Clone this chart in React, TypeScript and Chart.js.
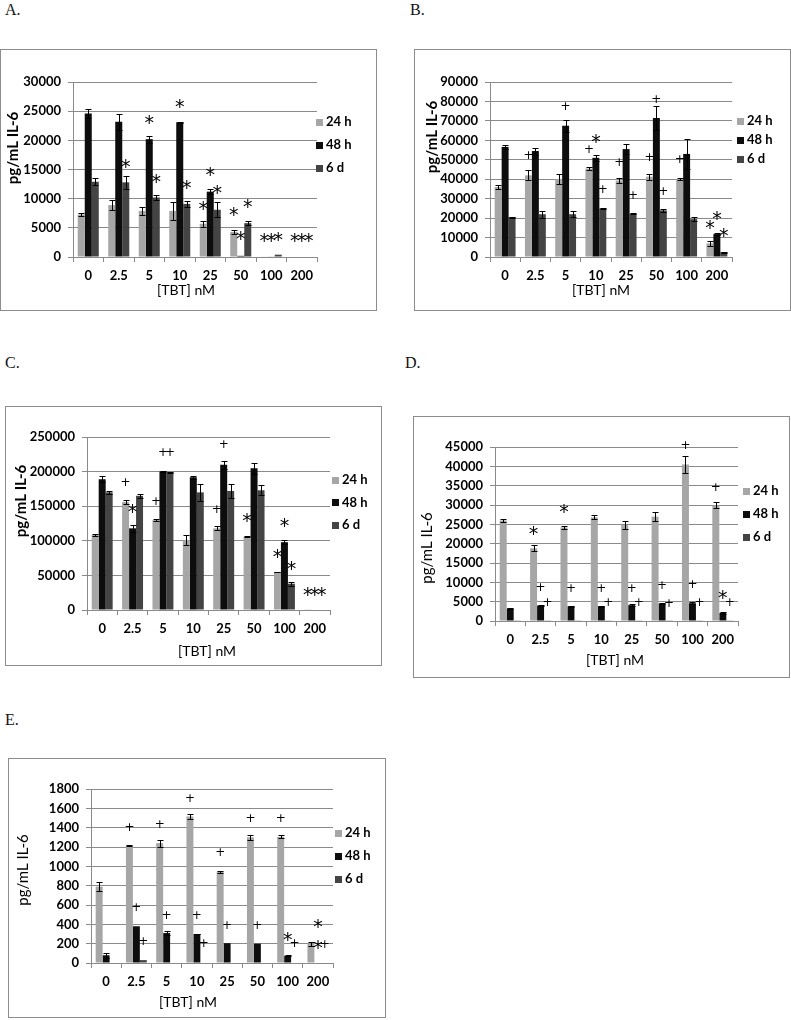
import React, { useEffect, useRef } from "react";
import { Chart, registerables } from "chart.js";

Chart.register(...registerables);

// ---------- shared ----------
const categories = ["0", "2.5", "5", "10", "25", "50", "100", "200"];
const seriesLabels = ["24 h", "48 h", "6 d"];
const seriesColors = ["#a6a6a6", "#0d0d0d", "#444444"];
const xTitle = "[TBT] nM";
const yTitle = "pg/mL IL-6";

// ---------- Panel A ----------
const aTicks = [0, 5000, 10000, 15000, 20000, 25000, 30000];
const a24 = [7300, 8900, 7900, 7900, 5700, 4300, 100, 0];
const a24Err = [300, 800, 700, 1500, 500, 300, 0, 0];
const a48 = [24600, 23200, 20200, 23100, 11200, 200, 100, 0];
const a48Err = [800, 1400, 600, 100, 400, 0, 0, 0];
const a6d = [12900, 12800, 10200, 9100, 8100, 5800, 400, 0];
const a6dErr = [600, 1100, 500, 500, 1300, 300, 0, 0];
// [category, series, symbol, value]
const aMarks: [number, number, string, number][] = [
  [1, 2, "*", 16100],
  [2, 1, "*", 23600], [2, 2, "*", 13500],
  [3, 1, "*", 26400], [3, 2, "*", 12400],
  [4, 0, "*", 8900], [4, 1, "*", 14700], [4, 2, "*", 11500],
  [5, 0, "*", 7800], [5, 1, "*", 3700], [5, 2, "*", 9200],
  [6, 0, "*", 3400], [6, 1, "*", 3400], [6, 2, "*", 3600],
  [7, 0, "*", 3300], [7, 1, "*", 3300], [7, 2, "*", 3300],
];

// ---------- Panel B ----------
const bTicks = [0, 10000, 20000, 30000, 40000, 50000, 60000, 70000, 80000, 90000];
const b24 = [36000, 42000, 40000, 45500, 39300, 41300, 40000, 7000];
const b24Err = [800, 2500, 2500, 1000, 1200, 1500, 600, 1200];
const b48 = [56600, 54500, 67500, 51000, 55500, 71500, 53000, 11800];
const b48Err = [1200, 1800, 3000, 1500, 2500, 6000, 7500, 300];
const b6d = [20500, 22000, 22000, 25000, 22200, 24000, 19500, 2500];
const b6dErr = [200, 1800, 1500, 300, 300, 800, 1000, 300];
const bMarks: [number, number, string, number][] = [
  [1, 0, "+", 52600],
  [2, 1, "+", 77600],
  [3, 0, "+", 55700], [3, 1, "*", 60700], [3, 2, "+", 35000],
  [4, 0, "+", 49000], [4, 2, "+", 32000],
  [5, 0, "+", 51200], [5, 1, "+", 81400], [5, 2, "+", 34000],
  [6, 0, "+", 50300],
  [7, 0, "*", 16700], [7, 1, "*", 21500], [7, 2, "*", 12400],
];

// ---------- Panel C ----------
const cTicks = [0, 50000, 100000, 150000, 200000, 250000];
const c24 = [108500, 156000, 130000, 101000, 118000, 106000, 55000, 1000];
const c24Err = [1000, 3000, 1000, 7000, 3000, 1000, 500, 0];
const c48 = [189000, 118000, 200000, 192000, 210000, 205000, 98000, 0];
const c48Err = [4000, 5000, 500, 2000, 6000, 8000, 3000, 0];
const c6d = [170000, 165000, 199000, 170000, 172000, 173000, 38000, 0];
const c6dErr = [2000, 3000, 1000, 12000, 10000, 7000, 3000, 0];
const cMarks: [number, number, string, number][] = [
  [1, 0, "+", 185000], [1, 1, "*", 146000],
  [2, 0, "+", 158000], [2, 1, "+", 228000], [2, 2, "+", 228000],
  [4, 0, "+", 146000], [4, 1, "+", 240000],
  [5, 0, "*", 134000],
  [6, 0, "*", 82000], [6, 1, "*", 126000], [6, 2, "*", 65000],
  [7, 0, "*", 26500], [7, 1, "*", 26500], [7, 2, "*", 26500],
];

// ---------- Panel D ----------
const dTicks = [0, 5000, 10000, 15000, 20000, 25000, 30000, 35000, 40000, 45000];
const d24 = [26000, 18800, 24200, 26800, 24800, 27000, 40500, 29900];
const d24Err = [400, 800, 300, 500, 1100, 1200, 2100, 800];
const d48 = [3200, 4000, 3800, 3800, 4100, 4500, 4600, 2100];
const d48Err = [100, 200, 100, 100, 200, 100, 300, 200];
const d6d = [80, 80, 80, 80, 80, 80, 80, 80];
const d6dErr = [0, 0, 0, 0, 0, 0, 0, 0];
const dMarks: [number, number, string, number][] = [
  [1, 0, "*", 23500], [1, 1, "+", 8700], [1, 2, "+", 4800],
  [2, 0, "*", 29100], [2, 1, "+", 8600],
  [3, 1, "+", 8600], [3, 2, "+", 4800],
  [4, 1, "+", 8600], [4, 2, "+", 4800],
  [5, 1, "+", 9300], [5, 2, "+", 4600],
  [6, 0, "+", 45400], [6, 1, "+", 9500], [6, 2, "+", 5000],
  [7, 0, "+", 34700], [7, 1, "*", 6900], [7, 2, "+", 4800],
];

// ---------- Panel E ----------
const eTicks = [0, 200, 400, 600, 800, 1000, 1200, 1400, 1600, 1800];
const e24 = [790, 1215, 1240, 1515, 945, 1300, 1305, 200];
const e24Err = [50, 8, 35, 30, 10, 25, 15, 20];
const e48 = [80, 380, 310, 300, 205, 200, 75, 0];
const e48Err = [25, 0, 25, 5, 0, 0, 5, 0];
const e6d = [5, 30, 5, 5, 5, 5, 5, 5];
const e6dErr = [0, 0, 0, 0, 0, 0, 0, 0];
const eMarks: [number, number, string, number][] = [
  [1, 0, "+", 1404], [1, 1, "+", 578], [1, 2, "+", 224],
  [2, 0, "+", 1439], [2, 1, "+", 499],
  [3, 0, "+", 1707], [3, 1, "+", 492], [3, 2, "+", 206],
  [4, 0, "+", 1146], [4, 1, "+", 396],
  [5, 0, "+", 1497], [5, 1, "+", 396],
  [6, 0, "+", 1497], [6, 1, "*", 279], [6, 2, "+", 206],
  [7, 1, "*", 406], [7, 1, "*", 189], [7, 2, "+", 200],
];

// ---------- layout (positions / styles only) ----------
type Mark = [number, number, string, number];
interface Panel {
  letter: string;
  ticks: number[];
  values: number[][];
  errors: number[][];
  marks: Mark[];
  box: [number, number, number, number];
  plot: [number, number, number, number];
  yTitlePos: [number, number];
  yTitleBold: boolean;
  xTitlePos: [number, number];
  legend: [number, number, number];
  letterPos: [number, number];
}

const panels: Panel[] = [
  {
    letter: "A.", ticks: aTicks, values: [a24, a48, a6d], errors: [a24Err, a48Err, a6dErr], marks: aMarks,
    box: [0, 49, 377, 262], plot: [73, 33, 317, 208], yTitlePos: [13, 99], yTitleBold: true,
    xTitlePos: [186, 241], legend: [316, 73, 23], letterPos: [5, 2],
  },
  {
    letter: "B.", ticks: bTicks, values: [b24, b48, b6d], errors: [b24Err, b48Err, b6dErr], marks: bMarks,
    box: [414, 49, 377, 262], plot: [76, 33, 318, 208], yTitlePos: [18, 88], yTitleBold: true,
    xTitlePos: [187, 241], legend: [323, 72, 19], letterPos: [410, 2],
  },
  {
    letter: "C.", ticks: cTicks, values: [c24, c48, c6d], errors: [c24Err, c48Err, c6dErr], marks: cMarks,
    box: [5, 406, 377, 260], plot: [82, 31, 325, 204], yTitlePos: [16, 95], yTitleBold: true,
    xTitlePos: [202, 245], legend: [327, 74, 22.5], letterPos: [5, 355],
  },
  {
    letter: "D.", ticks: dTicks, values: [d24, d48, d6d], errors: [d24Err, d48Err, d6dErr], marks: dMarks,
    box: [413, 416, 377, 262], plot: [82, 31, 325, 205], yTitlePos: [14, 132], yTitleBold: false,
    xTitlePos: [202, 244], legend: [330, 75, 23], letterPos: [405, 355],
  },
  {
    letter: "E.", ticks: eTicks, values: [e24, e48, e6d], errors: [e24Err, e48Err, e6dErr], marks: eMarks,
    box: [8, 758, 378, 260], plot: [83, 31, 325, 205], yTitlePos: [15, 112], yTitleBold: false,
    xTitlePos: [180, 244], legend: [327, 75, 23], letterPos: [5, 712],
  },
];

const gridColor = "#8a8a8a";
const tickFont = { family: "Lato, 'Open Sans', sans-serif", size: 13, weight: "bold" as const };

function PanelChart({ p }: { p: Panel }) {
  const ref = useRef<HTMLCanvasElement | null>(null);
  useEffect(() => {
    const canvas = ref.current;
    if (!canvas) return;
    const [, , w, h] = p.box;
    const [pl, pt, pr, pb] = p.plot;
    const extras = {
      id: "extras",
      afterDatasetsDraw(chart: any) {
        const ctx = chart.ctx as CanvasRenderingContext2D;
        const ys = chart.scales.y;
        ctx.save();
        ctx.strokeStyle = "#000";
        ctx.lineWidth = 1;
        p.values.forEach((vals, si) => {
          const meta = chart.getDatasetMeta(si);
          vals.forEach((v, ci) => {
            const e = p.errors[si][ci];
            if (!e) return;
            const x = Math.round(meta.data[ci].x) + 0.5;
            const yt = Math.round(ys.getPixelForValue(v + e)) + 0.5;
            const yb = Math.round(ys.getPixelForValue(Math.max(0, v - e))) + 0.5;
            ctx.beginPath();
            ctx.moveTo(x, yt);
            ctx.lineTo(x, yb);
            ctx.moveTo(x - 3, yt);
            ctx.lineTo(x + 3, yt);
            ctx.moveTo(x - 3, yb);
            ctx.lineTo(x + 3, yb);
            ctx.stroke();
          });
        });
        ctx.fillStyle = "#000";
        ctx.textAlign = "center";
        ctx.textBaseline = "alphabetic";
        p.marks.forEach(([ci, si, sym, val]) => {
          const meta = chart.getDatasetMeta(si);
          const x = meta.data[ci].x;
          const y = ys.getPixelForValue(val);
          ctx.font = sym === "*" ? "19px 'DejaVu Sans'" : "12px 'DejaVu Sans'";
          const m = ctx.measureText(sym);
          const off = (m.actualBoundingBoxAscent - m.actualBoundingBoxDescent) / 2;
          ctx.fillText(sym, x, y + off);
        });
        ctx.restore();
      },
      afterDraw(chart: any) {
        const ctx = chart.ctx as CanvasRenderingContext2D;
        ctx.save();
        // legend
        const [lx, ly, ldy] = p.legend;
        ctx.textAlign = "left";
        ctx.textBaseline = "middle";
        ctx.font = "bold 13px Lato, 'Open Sans', sans-serif";
        seriesLabels.forEach((lab, i) => {
          const cy = ly + i * ldy;
          ctx.fillStyle = seriesColors[i];
          ctx.fillRect(lx, Math.round(cy - 3.5), 7, 7);
          ctx.fillStyle = "#000";
          ctx.fillText(lab, lx + 10, cy);
        });
        // x title
        ctx.textAlign = "center";
        ctx.font = "14px Lato, 'Open Sans', sans-serif";
        ctx.fillText(xTitle, p.xTitlePos[0], p.xTitlePos[1]);
        // y title
        ctx.translate(p.yTitlePos[0], p.yTitlePos[1]);
        ctx.rotate(-Math.PI / 2);
        ctx.font = (p.yTitleBold ? "bold " : "") + "15px Lato, 'Open Sans', sans-serif";
        ctx.fillText(yTitle, 0, 0);
        ctx.restore();
      },
    };
    const chart = new Chart(canvas, {
      type: "bar",
      data: {
        labels: categories,
        datasets: seriesLabels.map((lab, i) => ({
          label: lab,
          data: p.values[i],
          backgroundColor: seriesColors[i],
          borderWidth: 0,
          categoryPercentage: 0.69,
          barPercentage: 1,
        })),
      },
      options: {
        animation: false,
        responsive: false,
        devicePixelRatio: 1,
        layout: { padding: { left: 0, top: pt, right: w - pr, bottom: 0 } },
        plugins: {
          legend: { display: false },
          tooltip: { enabled: false },
          title: { display: false },
        },
        scales: {
          x: {
            type: "category",
            offset: true,
            grid: { offset: true, drawOnChartArea: false, drawTicks: true, tickLength: 5, color: gridColor },
            border: { display: true, color: gridColor },
            ticks: { font: tickFont, color: "#000", padding: 6, maxRotation: 0, autoSkip: false },
            afterFit: (s: any) => {
              s.height = h - pb;
            },
          },
          y: {
            min: 0,
            max: p.ticks[p.ticks.length - 1],
            grid: { color: gridColor, tickLength: 5, drawTicks: true },
            border: { display: true, color: gridColor },
            ticks: { font: tickFont, color: "#000", padding: 7, callback: (v: any) => String(v) },
            afterBuildTicks: (s: any) => {
              s.ticks = p.ticks.map((v) => ({ value: v }));
            },
            afterFit: (s: any) => {
              s.width = pl;
            },
          },
        },
      },
      plugins: [extras],
    } as any);
    return () => chart.destroy();
  }, [p]);
  const [x, y, w, h] = p.box;
  return (
    <>
      <div
        style={{
          position: "absolute",
          left: p.letterPos[0],
          top: p.letterPos[1],
          fontFamily: "'Liberation Serif', serif",
          fontSize: 16,
          lineHeight: "16px",
          color: "#111",
        }}
      >
        {p.letter}
      </div>
      <div
        style={{
          position: "absolute",
          left: x,
          top: y,
          width: w,
          height: h,
          boxSizing: "border-box",
          border: "1px solid #8c8c8c",
          background: "#fff",
        }}
      />
      <canvas
        ref={ref}
        width={w}
        height={h}
        style={{ position: "absolute", left: x, top: y, width: w, height: h }}
      />
    </>
  );
}

export default function App() {
  return (
    <div style={{ position: "absolute", left: 0, top: 0, width: 791, height: 1020, background: "#fff", overflow: "hidden" }}>
      {panels.map((p) => (
        <PanelChart key={p.letter} p={p} />
      ))}
    </div>
  );
}
